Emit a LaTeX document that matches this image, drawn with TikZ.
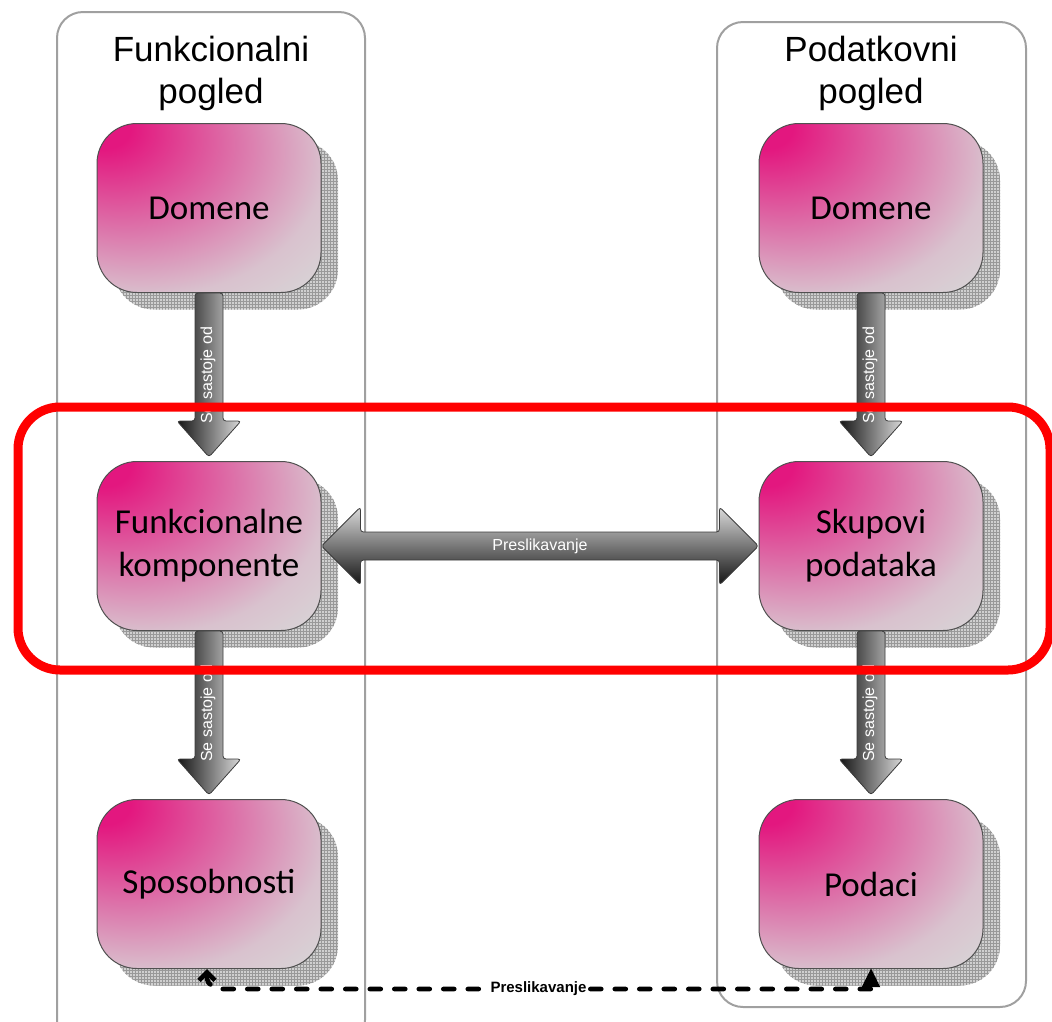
\documentclass[tikz,border=0pt]{standalone}
\usepackage{fontspec}
\setmainfont{Carlito}
\newfontfamily\arialf{Liberation Sans}
\usetikzlibrary{calc,patterns,arrows.meta}

\definecolor{boxmag}{HTML}{E3177F}
\definecolor{boxmid}{HTML}{DC78AC}
\definecolor{boxpale}{HTML}{D9C2CE}
\definecolor{boxgray}{HTML}{D8D6D7}
\definecolor{boxline}{HTML}{505050}
\definecolor{frame}{HTML}{A0A0A0}
\definecolor{shadowbase}{HTML}{D0D0D0}
\definecolor{shadowline}{HTML}{999999}
\definecolor{arrowdark}{HTML}{141414}
\definecolor{arrowlight}{HTML}{DADADA}
\definecolor{arrowline}{HTML}{3C3C3C}

% magenta glow starting in the upper left corner of each box
\pgfdeclareradialshading{boxglow}{\pgfpoint{-25bp}{25bp}}{%
  color(0bp)=(boxmag); color(6bp)=(boxmag); color(26bp)=(boxmid);
  color(41bp)=(boxpale); color(52bp)=(boxgray); color(100bp)=(boxgray)}

\tikzset{
  container/.style={draw=frame, line width=2pt, rounded corners=26pt},
  title/.style={font=\arialf\fontsize{35}{42}\selectfont, align=center,
    inner sep=0pt, anchor=north},
  boxshadow/.style={
    preaction={fill=shadowbase, transform canvas={shift={(17pt,-17pt)}}},
    preaction={pattern=grid, pattern color=shadowline,
      transform canvas={shift={(17pt,-17pt)}}}},
  pinkbox/.style={rectangle, rounded corners=40pt, minimum width=224pt,
    minimum height=169pt, inner sep=0pt, draw=boxline, line width=1pt,
    shade, shading=boxglow, align=center,
    font=\fontsize{35}{43}\selectfont, boxshadow},
  blockarrow/.style={draw=arrowline, line width=0.8pt, rounded corners=3pt},
  varrowfill/.style={left color=arrowdark, right color=arrowlight},
  harrowfill/.style={top color=arrowlight, bottom color=arrowdark},
  arrowtext/.style={text=white, font=\arialf\fontsize{16}{19}\selectfont,
    inner sep=0pt},
  highlight/.style={draw=red, line width=9pt, rounded corners=42pt},
  mapping/.style={line width=4.6pt, dash pattern=on 11pt off 13.5pt,
    line cap=round},
  maplabel/.style={fill=white, inner sep=1.5pt,
    font=\arialf\bfseries\fontsize{15}{18}\selectfont}
}

\begin{document}
\begin{tikzpicture}[x=1pt, y=-1pt]
\clip (0,0) rectangle (1052,1021);

% the two views
\draw[container] (57,12) rectangle (365,1046);
\draw[container] (717,22) rectangle (1026,1007);
\node[title] (ftitle) at (211,36) {Funkcionalni\\pogled};
\node[title] (ptitle) at (871,36) {Podatkovni\\pogled};

% boxes
\node[pinkbox] (fdom)  at (209,208) {Domene};
\node[pinkbox] (fkomp) at (209,546) {Funkcionalne\\komponente};
\node[pinkbox] (fsp)   at (209,884) {Sposobnosti};
\node[pinkbox] (pdom)  at (871,208) {Domene};
\node[pinkbox] (pskup) at (871,546) {Skupovi\\podataka};
\node[pinkbox] (ppod)  at (871,884) {Podaci};

% "consists of" block arrows
\foreach \a/\b in {fdom/fkomp, fkomp/fsp, pdom/pskup, pskup/ppod} {
  \coordinate (t) at ($(\b.north)+(0,-4)$);
  \draw[blockarrow, varrowfill]
    ($(\a.south)+(-14,0)$) -- ($(t)+(-14,-36)$) -- ($(t)+(-32,-36)$)
    -- (t) -- ($(t)+(32,-36)$) -- ($(t)+(14,-36)$)
    -- ($(\a.south)+(14,0)$) -- cycle;
  \node[arrowtext, rotate=90, anchor=base west] at ($(t)+(3,-33)$)
    {Se sastoje od};
}

% two-way mapping arrow
\draw[blockarrow, harrowfill]
  (fkomp.east) -- ($(fkomp.east)+(39,-39)$) -- ($(fkomp.east)+(39,-14)$)
  -- ($(pskup.west)+(-39,-14)$) -- ($(pskup.west)+(-39,-39)$)
  -- (pskup.west) -- ($(pskup.west)+(-39,39)$) -- ($(pskup.west)+(-39,14)$)
  -- ($(fkomp.east)+(39,14)$) -- ($(fkomp.east)+(39,39)$) -- cycle;
\node[arrowtext] (maplbl) at ($(fkomp.east)!0.5!(pskup.west)$) {Preslikavanje};

% highlighted middle level
\draw[highlight] (18,407) rectangle (1050,670);

% dashed mapping between the lowest levels
\coordinate (sA) at ($(fsp.south)+(-2,0)$);
\coordinate (pA) at ($(ppod.south)+(0,-1)$);
\draw[mapping, {Straight Barb[length=8pt,width=16pt]}-{Triangle[length=19pt,width=17pt]}]
  (sA) .. controls ($(sA)+(0,14)$) .. ($(sA)+(12,20)$)
  -- node[maplabel, pos=0.49] {Preslikavanje} ($(pA)+(0,21)$) -- (pA);
\end{tikzpicture}
\end{document}
